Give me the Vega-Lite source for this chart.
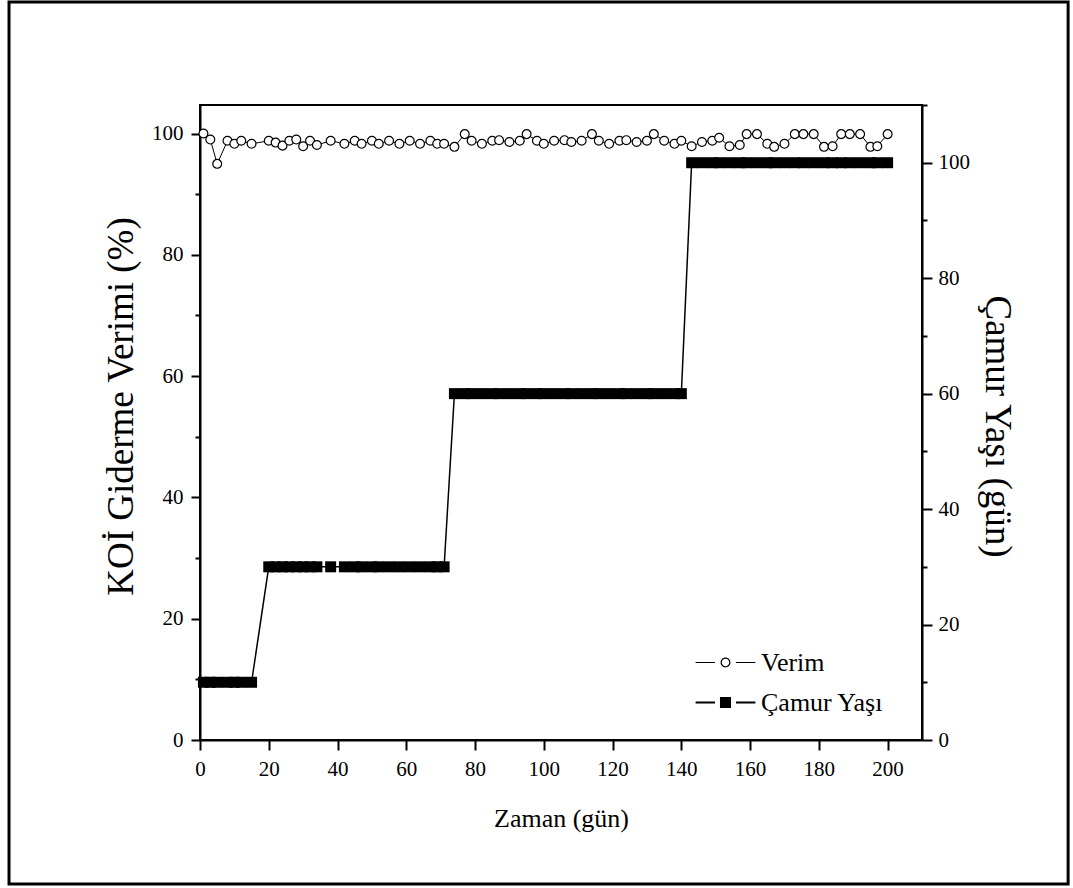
{
  "$schema": "https://vega.github.io/schema/vega-lite/v6.json",
  "width": 722,
  "height": 635,
  "autosize": {"type": "none"},
  "padding": {"left": 200, "top": 105, "right": 151, "bottom": 148},
  "background": "white",
  "config": {
    "font": "Liberation Serif",
    "view": {"stroke": "black", "strokeWidth": 2},
    "axis": {
      "labelFont": "Liberation Serif", "labelFontSize": 21, "labelColor": "black",
      "titleFont": "Liberation Serif", "titleFontSize": 26, "titleFontWeight": "normal", "titleColor": "black",
      "domainColor": "black", "domainWidth": 2, "tickColor": "black", "tickWidth": 2,
      "grid": false, "labelFlush": false, "labelOverlap": false
    }
  },
  "data": {"values": [
    {"day": 1, "verim": 100, "camur": 10},
    {"day": 3, "verim": 99, "camur": 10},
    {"day": 5, "verim": 95, "camur": 10},
    {"day": 8, "verim": 98.8, "camur": 10},
    {"day": 10, "verim": 98.3, "camur": 10},
    {"day": 12, "verim": 98.8, "camur": 10},
    {"day": 15, "verim": 98.3, "camur": 10},
    {"day": 20, "verim": 98.8, "camur": 30},
    {"day": 22, "verim": 98.5, "camur": 30},
    {"day": 24, "verim": 98.0, "camur": 30},
    {"day": 26, "verim": 98.8, "camur": 30},
    {"day": 28, "verim": 99.0, "camur": 30},
    {"day": 30, "verim": 97.9, "camur": 30},
    {"day": 32, "verim": 98.8, "camur": 30},
    {"day": 34, "verim": 98.1, "camur": 30},
    {"day": 38, "verim": 98.8, "camur": 30},
    {"day": 42, "verim": 98.3, "camur": 30},
    {"day": 45, "verim": 98.8, "camur": 30},
    {"day": 47, "verim": 98.3, "camur": 30},
    {"day": 50, "verim": 98.8, "camur": 30},
    {"day": 52, "verim": 98.3, "camur": 30},
    {"day": 55, "verim": 98.8, "camur": 30},
    {"day": 58, "verim": 98.3, "camur": 30},
    {"day": 61, "verim": 98.8, "camur": 30},
    {"day": 64, "verim": 98.3, "camur": 30},
    {"day": 67, "verim": 98.8, "camur": 30},
    {"day": 69, "verim": 98.3, "camur": 30},
    {"day": 71, "verim": 98.3, "camur": 30},
    {"day": 74, "verim": 97.8, "camur": 60},
    {"day": 77, "verim": 99.9, "camur": 60},
    {"day": 79, "verim": 98.8, "camur": 60},
    {"day": 82, "verim": 98.3, "camur": 60},
    {"day": 85, "verim": 98.8, "camur": 60},
    {"day": 87, "verim": 98.9, "camur": 60},
    {"day": 90, "verim": 98.6, "camur": 60},
    {"day": 93, "verim": 98.8, "camur": 60},
    {"day": 95, "verim": 99.9, "camur": 60},
    {"day": 98, "verim": 98.8, "camur": 60},
    {"day": 100, "verim": 98.3, "camur": 60},
    {"day": 103, "verim": 98.8, "camur": 60},
    {"day": 106, "verim": 98.9, "camur": 60},
    {"day": 108, "verim": 98.6, "camur": 60},
    {"day": 111, "verim": 98.8, "camur": 60},
    {"day": 114, "verim": 99.9, "camur": 60},
    {"day": 116, "verim": 98.8, "camur": 60},
    {"day": 119, "verim": 98.3, "camur": 60},
    {"day": 122, "verim": 98.8, "camur": 60},
    {"day": 124, "verim": 98.9, "camur": 60},
    {"day": 127, "verim": 98.6, "camur": 60},
    {"day": 130, "verim": 98.8, "camur": 60},
    {"day": 132, "verim": 99.9, "camur": 60},
    {"day": 135, "verim": 98.8, "camur": 60},
    {"day": 138, "verim": 98.3, "camur": 60},
    {"day": 140, "verim": 98.8, "camur": 60},
    {"day": 143, "verim": 97.9, "camur": 100},
    {"day": 146, "verim": 98.6, "camur": 100},
    {"day": 149, "verim": 98.8, "camur": 100},
    {"day": 151, "verim": 99.3, "camur": 100},
    {"day": 154, "verim": 97.9, "camur": 100},
    {"day": 157, "verim": 98.1, "camur": 100},
    {"day": 159, "verim": 99.9, "camur": 100},
    {"day": 162, "verim": 99.9, "camur": 100},
    {"day": 165, "verim": 98.3, "camur": 100},
    {"day": 167, "verim": 97.8, "camur": 100},
    {"day": 170, "verim": 98.3, "camur": 100},
    {"day": 173, "verim": 99.9, "camur": 100},
    {"day": 175.5, "verim": 99.9, "camur": 100},
    {"day": 178.5, "verim": 99.9, "camur": 100},
    {"day": 181.5, "verim": 97.8, "camur": 100},
    {"day": 184, "verim": 97.9, "camur": 100},
    {"day": 186.5, "verim": 99.9, "camur": 100},
    {"day": 189, "verim": 99.9, "camur": 100},
    {"day": 192, "verim": 99.9, "camur": 100},
    {"day": 195, "verim": 97.8, "camur": 100},
    {"day": 197, "verim": 97.9, "camur": 100},
    {"day": 200, "verim": 99.9, "camur": 100}
  ]},
  "layer": [
    {
      "layer": [
        {
          "mark": {"type": "line", "color": "black", "strokeWidth": 1},
          "encoding": {
            "x": {
              "field": "day", "type": "quantitative",
              "scale": {"domain": [0, 210], "nice": false, "zero": false},
              "axis": {
                "title": "Zaman (gün)",
                "values": [0, 10, 20, 30, 40, 50, 60, 70, 80, 90, 100, 110, 120, 130, 140, 150, 160, 170, 180, 190, 200, 210],
                "labelExpr": "datum.value % 20 === 0 && datum.value <= 200 ? datum.label : ''",
                "tickSize": {"condition": {"test": "datum.value % 20 === 0", "value": 10}, "value": 5},
                "labelPadding": 8,
                "titlePadding": 26
              }
            },
            "y": {
              "field": "verim", "type": "quantitative",
              "scale": {"domain": [0, 104.7], "nice": false, "zero": false},
              "axis": {
                "title": "KOİ Giderme Verimi (%)",
                "orient": "left",
                "values": [0, 10, 20, 30, 40, 50, 60, 70, 80, 90, 100],
                "labelExpr": "datum.value % 20 === 0 ? datum.label : ''",
                "tickSize": {"condition": {"test": "datum.value % 20 === 0", "value": 9}, "value": 5},
                "labelPadding": 8,
                "titlePadding": 11,
                "titleFontSize": 37,
                "titleY": 301
              }
            }
          }
        },
        {
          "mark": {"type": "point", "shape": "circle", "filled": true, "fill": "white", "stroke": "black", "strokeWidth": 1.2, "size": 78, "opacity": 1},
          "encoding": {
            "x": {"field": "day", "type": "quantitative"},
            "y": {"field": "verim", "type": "quantitative"}
          }
        },
        {
          "data": {"values": []},
          "mark": {"type": "point", "filled": true, "fill": "black", "stroke": "black", "strokeWidth": 0, "opacity": 1},
          "encoding": {
            "shape": {
              "datum": "Verim", "type": "nominal",
              "scale": {
                "domain": ["Verim", "Çamur Yaşı"],
                "range": [
                  "M-1.46,-0.03L-0.51,-0.03L-0.51,0.03L-1.46,0.03ZM0.51,-0.03L1.46,-0.03L1.46,0.03L0.51,0.03ZM0.24,0A0.24,0.24,0,1,1,-0.24,0A0.24,0.24,0,1,1,0.24,0ZM0.18,0A0.18,0.18,0,1,0,-0.18,0A0.18,0.18,0,1,0,0.18,0Z",
                  "M-1.46,-0.05L-0.51,-0.05L-0.51,0.05L-1.46,0.05ZM0.51,-0.05L1.46,-0.05L1.46,0.05L0.51,0.05ZM-0.27,-0.27L0.27,-0.27L0.27,0.27L-0.27,0.27Z"
                ]
              },
              "legend": {
                "orient": "none", "legendX": 504.5, "legendY": 536.5, "title": null,
                "symbolSize": 1681, "labelFont": "Liberation Serif", "labelFontSize": 26, "labelColor": "black",
                "labelOffset": 14.5, "padding": 0, "rowPadding": 6,
                "symbolFillColor": "black", "symbolStrokeColor": "black", "symbolStrokeWidth": 0.01, "symbolOpacity": 1
              }
            }
          }
        },
        {
          "data": {"values": [{}]},
          "mark": {"type": "rect", "fill": "transparent", "stroke": "black", "strokeWidth": 3},
          "encoding": {
            "x": {"datum": -55.55, "type": "quantitative"},
            "x2": {"datum": 252.5},
            "y": {"datum": 121.7, "type": "quantitative"},
            "y2": {"datum": -23.74}
          }
        }
      ]
    },
    {
      "layer": [
        {
          "mark": {"type": "line", "color": "black", "strokeWidth": 1.5},
          "encoding": {
            "x": {"field": "day", "type": "quantitative"},
            "y": {
              "field": "camur", "type": "quantitative",
              "scale": {"domain": [0, 110], "nice": false, "zero": false},
              "axis": {
                "title": "Çamur Yaşı (gün)",
                "orient": "right",
                "values": [0, 10, 20, 30, 40, 50, 60, 70, 80, 90, 100, 110],
                "labelExpr": "datum.value % 20 === 0 && datum.value <= 100 ? datum.label : ''",
                "tickSize": {"condition": {"test": "datum.value % 20 === 0", "value": 10}, "value": 5},
                "labelPadding": 6,
                "titlePadding": 8,
                "titleFontSize": 37,
                "titleY": 321
              }
            }
          }
        },
        {
          "mark": {"type": "point", "shape": "square", "filled": true, "fill": "black", "stroke": "black", "strokeWidth": 0, "size": 121, "opacity": 1},
          "encoding": {
            "x": {"field": "day", "type": "quantitative"},
            "y": {"field": "camur", "type": "quantitative"}
          }
        }
      ]
    }
  ],
  "resolve": {"scale": {"y": "independent"}}
}
